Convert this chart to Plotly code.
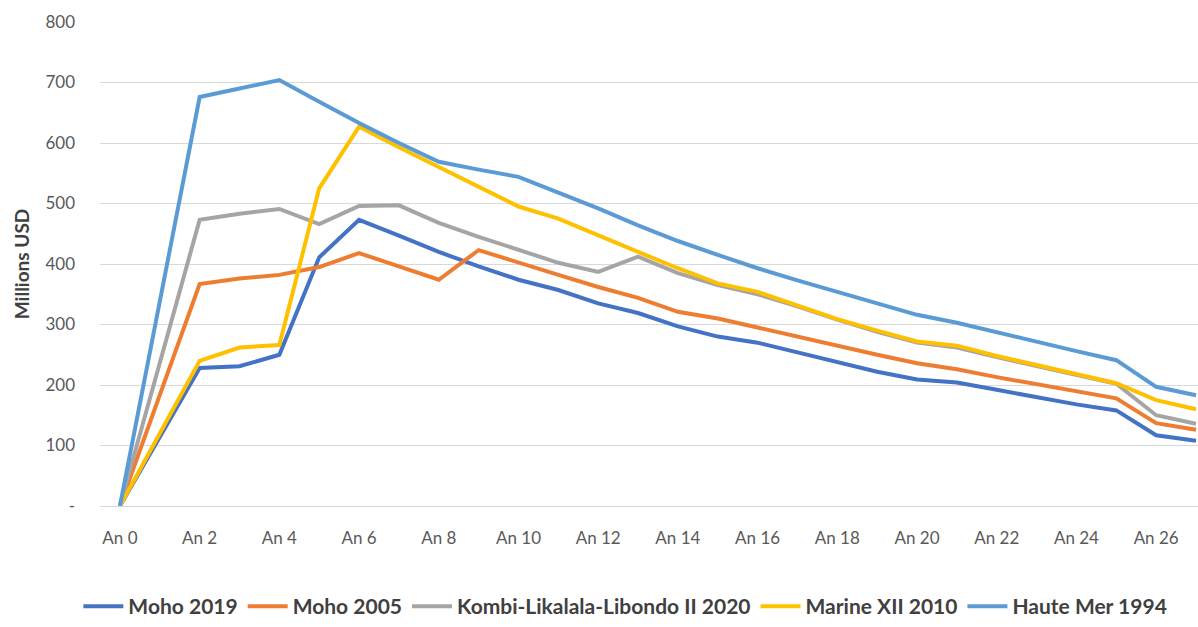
import plotly.graph_objects as go

# Years of production
years = [f"An {i}" for i in range(28)]
tick_years = [f"An {i}" for i in range(0, 28, 2)]

# Annual revenue, millions USD
moho_2019 = [0, 110, 228, 231, 250, 411, 473, 447, 420, 396, 374, 357, 335, 319, 297,
             280, 270, 254, 238, 222, 209, 204, 192, 180, 168, 158, 117, 108]
moho_2005 = [0, 180, 367, 376, 382, 395, 418, 396, 374, 423, 402, 382, 362, 344, 321,
             310, 295, 280, 264, 250, 236, 226, 213, 201, 190, 178, 137, 126]
kombi_2020 = [0, 235, 473, 483, 491, 466, 496, 497, 468, 445, 423, 402, 387, 412, 385,
              365, 350, 330, 308, 288, 270, 262, 246, 231, 216, 202, 150, 136]
marine_xii_2010 = [0, 120, 240, 262, 266, 525, 627, 593, 560, 527, 495, 475, 447, 420, 393,
                   368, 354, 331, 309, 290, 272, 265, 248, 233, 218, 203, 175, 160]
haute_mer_1994 = [0, 338, 676, 690, 704, 668, 633, 600, 569, 556, 544, 518, 492, 464, 438,
                  415, 393, 373, 354, 334, 316, 303, 287, 272, 256, 241, 197, 183]

series = [
    ("Moho 2019", moho_2019, "#4472C4"),
    ("Moho 2005", moho_2005, "#ED7D31"),
    ("Kombi-Likalala-Libondo II 2020", kombi_2020, "#A5A5A5"),
    ("Marine XII 2010", marine_xii_2010, "#FFC000"),
    ("Haute Mer 1994", haute_mer_1994, "#5B9BD5"),
]

fig = go.Figure()
for name, vals, color in series:
    # An 1 has no reported value; the line runs straight from An 0 to An 2
    xs = [y for i, y in enumerate(years) if i != 1]
    ys = [v for i, v in enumerate(vals) if i != 1]
    fig.add_trace(go.Scatter(
        x=xs, y=ys, name=name, mode="lines",
        line=dict(color=color, width=4),
    ))

font_family = "Lato, 'Open Sans', sans-serif"

fig.update_layout(
    width=1198, height=627,
    margin=dict(l=100, r=0, t=22, b=121),
    paper_bgcolor="white", plot_bgcolor="white",
    font=dict(family=font_family, color="#595959", size=17),
    showlegend=True,
    legend=dict(
        orientation="h", xref="container", x=0.522, xanchor="center",
        yref="container", y=0.0, yanchor="bottom",
        font=dict(size=21, color="#404040", family="Lato, sans-serif", weight="bold"),
        itemwidth=40, tracegroupgap=0,
    ),
    xaxis=dict(
        type="category", categoryorder="array", categoryarray=years,
        range=[-0.5, 27.05],
        tickvals=tick_years, ticktext=tick_years,
        showgrid=False, showline=False, zeroline=False,
        ticks="", ticklabelstandoff=20,
        tickfont=dict(size=17, color="#595959"),
    ),
    yaxis=dict(
        range=[0, 800], tickvals=list(range(0, 801, 100)),
        ticktext=["-"] + [str(v) for v in range(100, 801, 100)],
        showgrid=True, gridcolor="#D9D9D9", gridwidth=1,
        zeroline=True, zerolinecolor="#D9D9D9", zerolinewidth=1,
        showline=False, ticks="", ticklabelstandoff=24,
        tickfont=dict(size=17, color="#595959"),
        title=dict(text="<b>Millions USD</b>", font=dict(size=19, color="#404040"), standoff=10),
    ),
)

fig.write_html("out.html")
